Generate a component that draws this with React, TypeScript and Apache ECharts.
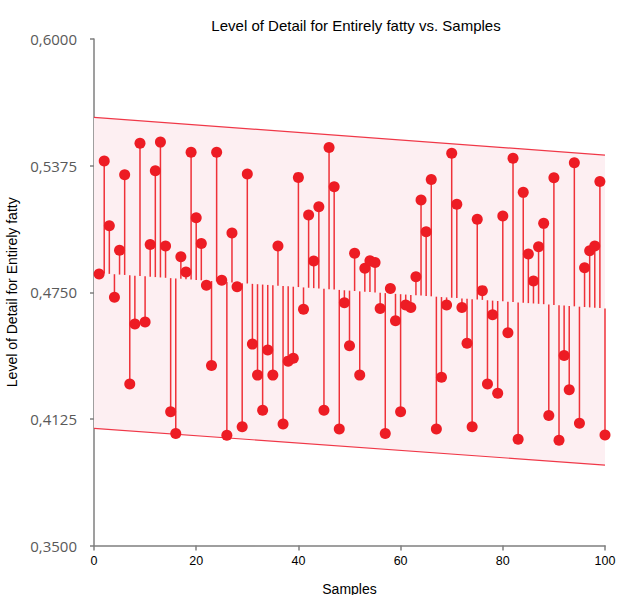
import React, { useEffect, useRef } from "react";
import * as echarts from "echarts";

const titleText = "Level of Detail for Entirely fatty vs. Samples";
const xAxisName = "Samples";
const yAxisName = "Level of Detail for Entirely fatty";

const samples: number[] = Array.from({ length: 100 }, (_, i) => i + 1);

const detailValues: number[] = [
  0.484, 0.5398, 0.5078, 0.4725, 0.4957, 0.533, 0.4297, 0.4593, 0.5485, 0.4603,
  0.4986, 0.535, 0.5491, 0.4978, 0.416, 0.4053, 0.4925, 0.485, 0.5441, 0.5118,
  0.4991, 0.4784, 0.4389, 0.5441, 0.4809, 0.4044, 0.5042, 0.4777, 0.4086, 0.5334,
  0.4494, 0.4341, 0.4168, 0.4465, 0.4341, 0.4978, 0.41, 0.441, 0.4424, 0.5317,
  0.4666, 0.5131, 0.4904, 0.5172, 0.4168, 0.5465, 0.5271, 0.4075, 0.4698, 0.4486,
  0.4942, 0.4341, 0.4868, 0.4906, 0.4897, 0.467, 0.4053, 0.4769, 0.4609, 0.416,
  0.4687, 0.4675, 0.4827, 0.5205, 0.5049, 0.5307, 0.4075, 0.433, 0.4687, 0.5436,
  0.5184, 0.4675, 0.4498, 0.4086, 0.511, 0.4758, 0.4297, 0.4639, 0.4251, 0.5126,
  0.455, 0.5411, 0.4024, 0.5243, 0.4939, 0.4805, 0.4975, 0.509, 0.4142, 0.5315,
  0.402, 0.4438, 0.4269, 0.5389, 0.4103, 0.4871, 0.4955, 0.4978, 0.5297, 0.4045,
];

// band / centre line end points at x = 0 and x = 100
const bandX: number[] = [0, 100];
const bandUpper: number[] = [0.5613, 0.5427];
const bandLower: number[] = [0.4078, 0.3897];
const bandCenter: number[] = [0.4846, 0.467];

const yTicks: number[] = [0.35, 0.4125, 0.475, 0.5375, 0.6];
const xTicks: number[] = [0, 20, 40, 60, 80, 100];

const RED = "#ED1C24";

function centerAt(x: number): number {
  const t = (x - bandX[0]) / (bandX[1] - bandX[0]);
  return bandCenter[0] + t * (bandCenter[1] - bandCenter[0]);
}

export default function App() {
  const ref = useRef<HTMLDivElement>(null);

  useEffect(() => {
    if (!ref.current) return;
    const chart = echarts.init(ref.current, null, { renderer: "svg" });

    const stemData = samples.map((s, i) => [s, detailValues[i], centerAt(s)]);
    const pointData = samples.map((s, i) => [s, detailValues[i]]);

    chart.setOption({
      animation: false,
      backgroundColor: "#ffffff",
      title: {
        text: titleText,
        left: 351,
        textAlign: "center",
        top: 13,
        textStyle: {
          fontFamily: "Liberation Sans, Arial, sans-serif",
          fontSize: 15,
          fontWeight: "normal",
          color: "#000",
        },
      },
      grid: {
        left: 94,
        right: 15,
        top: 39,
        bottom: 49.5,
        containLabel: false,
        outerBoundsMode: "none",
      },
      xAxis: {
        type: "value",
        min: xTicks[0],
        max: xTicks[xTicks.length - 1],
        interval: 20,
        name: xAxisName,
        nameLocation: "middle",
        nameGap: 36,
        nameTextStyle: {
          fontFamily: "Liberation Sans, Arial, sans-serif",
          fontSize: 14,
          color: "#000",
        },
        axisLine: { show: true, lineStyle: { color: "#7f7f7f", width: 1.5 } },
        axisTick: { show: true, length: 5, lineStyle: { color: "#7f7f7f", width: 1.5 } },
        axisLabel: {
          margin: 9,
          fontFamily: "Liberation Sans, Arial, sans-serif",
          fontSize: 12.5,
          color: "#000",
        },
        splitLine: { show: false },
      },
      yAxis: {
        type: "value",
        min: yTicks[0],
        max: yTicks[yTicks.length - 1],
        interval: 0.0625,
        name: yAxisName,
        nameLocation: "middle",
        nameGap: 69,
        nameTextStyle: {
          fontFamily: "Liberation Sans, Arial, sans-serif",
          fontSize: 14,
          color: "#000",
        },
        axisLine: { show: true, lineStyle: { color: "#7f7f7f", width: 1.5 } },
        axisTick: { show: true, length: 4, lineStyle: { color: "#7f7f7f", width: 1.5 } },
        axisLabel: {
          margin: 17,
          fontFamily: "Open Sans, Liberation Sans, sans-serif",
          fontSize: 15,
          color: "#595959",
          formatter: (v: number) => v.toFixed(4).replace(".", ","),
        },
        splitLine: { show: false },
      },
      series: [
        {
          type: "custom",
          name: "band",
          silent: true,
          z: 1,
          data: [[bandX[0], bandLower[0], bandX[1], bandLower[1]]],
          renderItem: (params: any, api: any) => {
            const ul = api.coord([bandX[0], bandUpper[0]]);
            const ur = api.coord([bandX[1], bandUpper[1]]);
            const ll = api.coord([bandX[0], bandLower[0]]);
            const lr = api.coord([bandX[1], bandLower[1]]);
            return {
              type: "group",
              children: [
                {
                  type: "polygon",
                  shape: { points: [ul, ur, lr, ll] },
                  style: { fill: "#fdeff2", stroke: "none" },
                },
                {
                  type: "line",
                  shape: { x1: ul[0], y1: ul[1], x2: ur[0], y2: ur[1] },
                  style: { stroke: "#f03848", lineWidth: 1.2 },
                },
                {
                  type: "line",
                  shape: { x1: ll[0], y1: ll[1], x2: lr[0], y2: lr[1] },
                  style: { stroke: "#f03848", lineWidth: 1.2 },
                },
              ],
            };
          },
        },
        {
          type: "custom",
          name: "stems",
          silent: true,
          z: 2,
          data: stemData,
          encode: { x: 0, y: 1 },
          renderItem: (params: any, api: any) => {
            const x = api.value(0);
            const p = api.coord([x, api.value(1)]);
            const c = api.coord([x, api.value(2)]);
            return {
              type: "line",
              shape: { x1: p[0], y1: p[1], x2: c[0], y2: c[1] },
              style: { stroke: RED, lineWidth: 1.5, opacity: 0.9 },
            };
          },
        },
        {
          type: "scatter",
          name: "Samples",
          z: 3,
          symbol: "circle",
          symbolSize: 11,
          itemStyle: { color: RED, opacity: 1 },
          data: pointData,
        },
      ],
    });

    return () => {
      chart.dispose();
    };
  }, []);

  return (
    <div
      ref={ref}
      style={{ position: "fixed", left: 0, top: 0, width: 620, height: 595, background: "#fff" }}
    />
  );
}
